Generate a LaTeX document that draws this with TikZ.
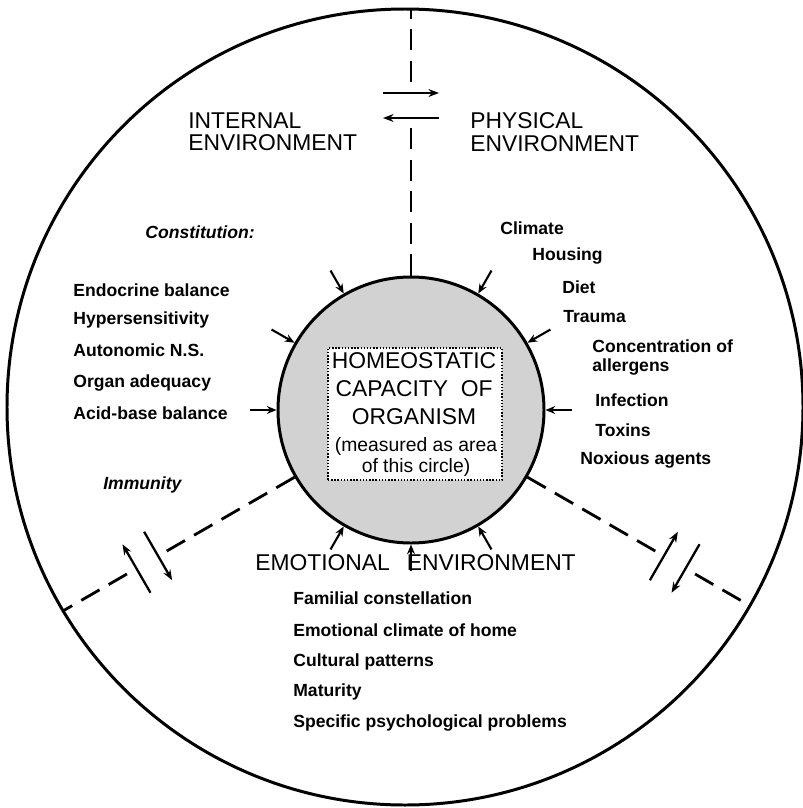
\documentclass[tikz,border=0pt]{standalone}
\usepackage{fontspec}
\setmainfont{Liberation Sans}
\usetikzlibrary{arrows.meta,calc}

\tikzset{
  ring/.style={circle, draw, line width=1.7pt, inner sep=0pt},
  linkdash/.style={line width=1.6pt, dash pattern=on 12pt off 6pt},
  swaparrow/.style={line width=1.3pt, -{Stealth[length=6pt,width=4.5pt]}},
  pusharrow/.style={line width=1.2pt, -{Stealth[length=5.5pt,width=4.5pt]}},
  envlabel/.style={font=\fontsize{13}{13}\selectfont, align=left, anchor=north west, inner sep=0pt},
  factor/.style={font=\fontsize{10}{11}\selectfont\bfseries, align=left, anchor=west, inner sep=0pt},
  grouplabel/.style={font=\fontsize{10}{11}\selectfont\bfseries\itshape, anchor=west, inner sep=0pt},
}

\begin{document}
\begin{tikzpicture}
\useasboundingbox (0,0) rectangle (16.04,-16.16);

% Environment circle and organism
\node[ring, minimum size=15.92cm] (world) at (8.10,-8.14) {};
\node[ring, fill=gray!35, minimum size=5.32cm] (core) at (8.22,-8.20) {};
\node[draw, densely dotted, thick, fill=white, minimum width=3.48cm, minimum height=2.64cm] (box) at (8.30,-8.28) {};
\node[font=\fontsize{13}{16}\selectfont, align=center, inner sep=0pt] (capacity) at (8.28,-7.77) {HOMEOSTATIC\\CAPACITY\ \ OF\\ORGANISM};
\node[font=\fontsize{11}{12}\selectfont, align=center, inner sep=0pt] (measure) at (8.32,-9.14) {(measured as area\\of this circle)};

% Dashed borders between the three environments
\foreach \a/\r in {90/8.02, 210/8.03, 330/7.83} {
  \coordinate (in\a) at ($(core.center)+(\a:5.66)$);
  \coordinate (out\a) at ($(core.center)+(\a:6.56)$);
  \coordinate (rim\a) at ($(core.center)+(\a:\r)$);
  \draw[linkdash] (core.\a) -- (in\a);
  \draw[linkdash] (out\a) -- (rim\a);
  % exchange across the border
  \draw[swaparrow] ($(core.center)+(\a:6.34)+(\a+90:0.56)$) -- ($(core.center)+(\a:6.34)+(\a-90:0.56)$);
  \draw[swaparrow] ($(core.center)+(\a:5.84)+(\a-90:0.56)$) -- ($(core.center)+(\a:5.84)+(\a+90:0.56)$);
}

% Stresses on the organism
\foreach \a in {0,30,60,120,150,180,240,270,300}
  \draw[pusharrow] ($(core.center)+(\a:3.22)$) -- (core.\a);

% Internal environment
\node[envlabel] (internal) at (3.76,-2.24) {INTERNAL\\ENVIRONMENT};
\node[grouplabel] (constitution) at (2.90,-4.64) {Constitution:};
\node[factor] (endocrine) at (1.46,-5.80) {Endocrine balance};
\node[factor] (hypersens) at (1.46,-6.40) {Hypersensitivity};
\node[factor] (autonomic) at (1.46,-7.00) {Autonomic N.S.};
\node[factor] (organ) at (1.46,-7.66) {Organ adequacy};
\node[factor] (acidbase) at (1.46,-8.26) {Acid-base balance};
\node[grouplabel] (immunity) at (2.06,-9.70) {Immunity};

% Physical environment
\node[envlabel] (physical) at (9.40,-2.24) {PHYSICAL\\ENVIRONMENT};
\node[factor] (climate) at (10.00,-4.56) {Climate};
\node[factor] (housing) at (10.64,-5.12) {Housing};
\node[factor] (diet) at (11.24,-5.74) {Diet};
\node[factor] (trauma) at (11.26,-6.34) {Trauma};
\node[factor] (allergens) at (11.84,-7.15) {Concentration of\\allergens};
\node[factor] (infection) at (11.90,-8.00) {Infection};
\node[factor] (toxins) at (11.90,-8.60) {Toxins};
\node[factor] (noxious) at (11.60,-9.20) {Noxious agents};

% Emotional environment
\node[font=\fontsize{13}{13}\selectfont, anchor=west, inner sep=0pt] (emotional) at (5.10,-11.26) {EMOTIONAL\hspace{0.34cm}ENVIRONMENT};
\node[factor] (familial) at (5.86,-11.96) {Familial constellation};
\node[factor] (climatehome) at (5.86,-12.60) {Emotional climate of home};
\node[factor] (cultural) at (5.86,-13.24) {Cultural patterns};
\node[factor] (maturity) at (5.86,-13.84) {Maturity};
\node[factor] (psych) at (5.86,-14.46) {Specific psychological problems};

\end{tikzpicture}
\end{document}
